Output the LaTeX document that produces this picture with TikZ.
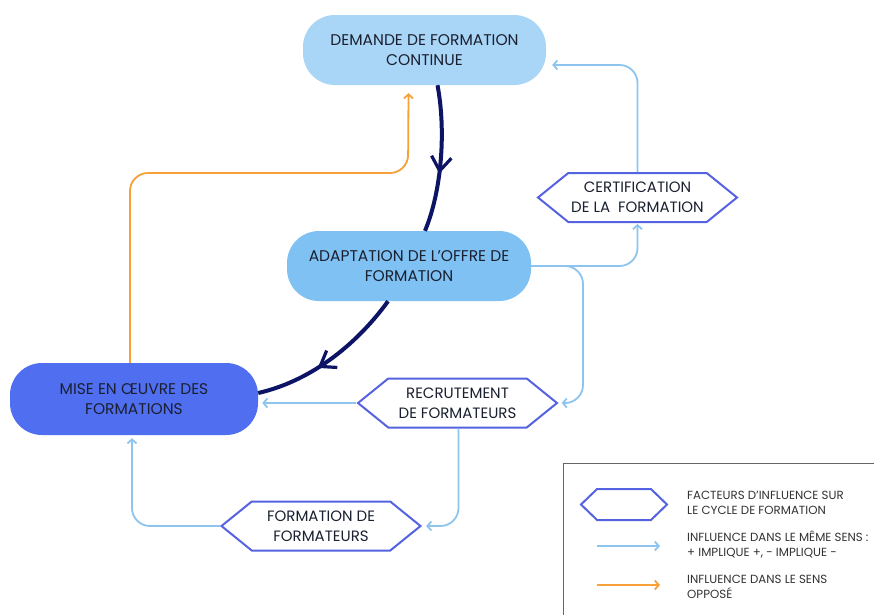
\documentclass[tikz,border=0pt]{standalone}
\usepackage{fontspec}
\setmainfont{Poppins}
\usetikzlibrary{shapes.symbols,arrows.meta,decorations.markings}
\definecolor{pillA}{HTML}{A9D5F7}
\definecolor{pillB}{HTML}{7EC1F2}
\definecolor{pillC}{HTML}{4F6EF0}
\definecolor{hexc}{HTML}{5563E0}
\definecolor{lblue}{HTML}{8EC5EE}
\definecolor{orng}{HTML}{F7A138}
\definecolor{navy}{HTML}{0D1466}
\definecolor{txt}{HTML}{1B2030}
\definecolor{legtxt}{HTML}{333333}
\begin{document}
\begin{tikzpicture}[x=1pt,y=-1pt,
  pill/.style={rectangle, rounded corners=32pt, minimum width=243pt, minimum height=70pt,
    align=center, text=txt, inner sep=0pt, font=\fontsize{15.5}{20}\selectfont},
  hexa/.style={signal, signal to=west and east, signal pointer angle=78, draw=hexc,
    line width=2pt, fill=white, minimum width=199pt, minimum height=49pt, align=center,
    inner sep=0pt, text=txt, font=\fontsize{15}{20}\selectfont},
  same/.style={draw=lblue, line width=1.8pt, rounded corners=18pt,
    -{Straight Barb[length=4pt,width=9pt]}},
  opp/.style={draw=orng, line width=1.8pt, rounded corners=18pt,
    -{Straight Barb[length=4pt,width=9pt]}},
  mainflow/.style={draw=navy, line width=4pt, postaction={decorate},
    decoration={markings, mark=at position .6 with {\arrow[line width=3.2pt]{Straight Barb[length=14pt,width=20pt]}}}},
  legtext/.style={anchor=west, align=left, text=legtxt, inner sep=0pt, font=\fontsize{11.8}{15}\selectfont}
]
\useasboundingbox (0,0) rectangle (874,614);
\fill[white] (0,0) rectangle (874,614);

% main nodes
\node[pill, fill=pillA] (dem) at (424.5,50) {DEMANDE DE FORMATION\\CONTINUE};
\node[pill, fill=pillB, minimum width=244pt] (adp) at (409,266) {ADAPTATION DE L’OFFRE DE\\FORMATION};
\node[pill, fill=pillC, minimum width=248pt, minimum height=72pt] (mise) at (134,399) {MISE EN ŒUVRE DES\\FORMATIONS};

% hexagons
\node[hexa] (cert) at (637.5,197.5) {CERTIFICATION\\DE LA\ \ FORMATION};
\node[hexa] (recr) at (457.5,403) {RECRUTEMENT\\DE FORMATEURS};
\node[hexa] (form) at (321,526) {FORMATION DE\\FORMATEURS};

% main flow
\draw[mainflow] ([xshift=13pt]dem.south) .. controls (446,130) and (442,190) .. ([xshift=16pt]adp.north);
\draw[mainflow] ([xshift=-21pt]adp.south) .. controls (360,340) and (315,380) .. ([yshift=6pt]mise.east);

% opposite influence
\draw[opp] ([xshift=-4pt]mise.north) |- (408,173) -- ([xshift=-16pt,yshift=-8pt]dem.south);

% same influence
\draw[same] (cert.north) |- ([xshift=6pt,yshift=-15pt]dem.east);
\draw[same, shorten >=1pt] (adp.east) -| (cert.south);
\draw[same, shorten >=3pt] (adp.east) -- (583,266) |- (recr.east);
\draw[same, shorten >=4pt] (recr.west) -- (recr.west -| mise.east);
\draw[same, shorten >=4pt] ([xshift=1pt]recr.south) |- (form.east);
\draw[same, shorten >=3pt] (form.west) -| ([xshift=-2pt]mise.south);

% legend
\draw[draw=gray!80!black, line width=1pt] (563,463) rectangle (890,630);
\node[hexa, minimum width=86pt, minimum height=31pt, signal pointer angle=88] (lh) at (624,504.5) {};
\node[legtext] (lt1) at (687,503) {FACTEURS D'INFLUENCE SUR\\LE CYCLE DE FORMATION};
\coordinate (l1a) at (597,546);
\coordinate (l1b) at (660,546);
\draw[same] (l1a) -- (l1b);
\node[legtext] (lt2) at (687,545) {INFLUENCE DANS LE MÊME SENS :\\+ IMPLIQUE +, - IMPLIQUE -};
\coordinate (l2a) at (597,585);
\coordinate (l2b) at (660,585);
\draw[opp] (l2a) -- (l2b);
\node[legtext] (lt3) at (687,587) {INFLUENCE DANS LE SENS\\OPPOSÉ};
\end{tikzpicture}
\end{document}
